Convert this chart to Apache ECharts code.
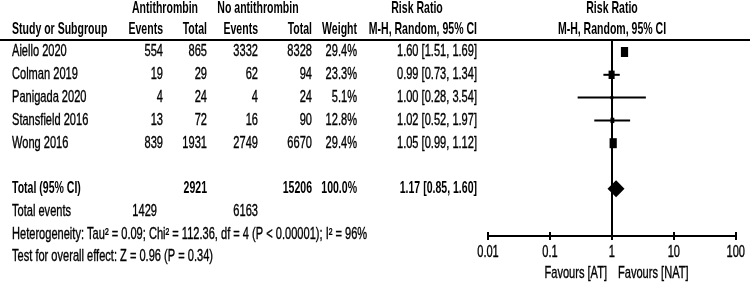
<!DOCTYPE html>
<html>
<head>
<meta charset="utf-8">
<script src="https://cdn.jsdelivr.net/npm/echarts@6/dist/echarts.min.js"></script>
<style>
  html, body { margin: 0; padding: 0; background: #fff; }
  #chart { width: 750px; height: 285px; }
</style>
</head>
<body>
<div id="chart"></div>
<script>
// study data
const studies = ['Aiello 2020', 'Colman 2019', 'Panigada 2020', 'Stansfield 2016', 'Wong 2016'];
const atEvents = [554, 19, 4, 13, 839];
const atTotal = [865, 29, 24, 72, 1931];
const natEvents = [3332, 62, 4, 16, 2749];
const natTotal = [8328, 94, 24, 90, 6670];
const weights = [29.4, 23.3, 5.1, 12.8, 29.4];
const rr = [1.60, 0.99, 1.00, 1.02, 1.05];
const ciLow = [1.51, 0.73, 0.28, 0.52, 0.99];
const ciHigh = [1.69, 1.34, 3.54, 1.97, 1.12];

// pooled result
const pooledRR = [1.17, 0.85, 1.60];
const pooledTotals = [2921, 15206];
const pooledEvents = [1429, 6163];
const heterogeneityText = 'Heterogeneity: Tau\u00b2 = 0.09; Chi\u00b2 = 112.36, df = 4 (P < 0.00001); I\u00b2 = 96%';
const overallText = 'Test for overall effect: Z = 0.96 (P = 0.34)';
const xTicks = [0.01, 0.1, 1, 10, 100];
const favourLabels = ['Favours [AT]', 'Favours [NAT]'];

// no Arial Narrow here: squeeze Liberation Sans instead (and stretch a bit, like the source image)
const FONT = "'Liberation Sans', Arial, sans-serif";
const FS = 13.5;
const NARROW = 0.82;
const NARROW_BOLD = 0.78;
const TALL = 1.18;

// row layout (pixels)
const row0 = 52;
const rowH = 22.8;
const gridTop = 40;
const axisY = 236;
const totalRow = 6;
const rowY = r => row0 + r * rowH;
const yMin = (gridTop - row0) / rowH;
const yMax = (axisY - row0) / rowH;

const fmt2 = v => v.toFixed(2);
const rrText = (m, l, h) => fmt2(m) + ' [' + fmt2(l) + ', ' + fmt2(h) + ']';

const chart = echarts.init(document.getElementById('chart'));

function txt(x, y, s, align, bold) {
    return {
        type: 'text',
        x: x,
        y: y,
        scaleX: bold ? NARROW_BOLD : NARROW,
        scaleY: TALL,
        style: {
            text: s,
            fill: '#000',
            stroke: '#000',
            lineWidth: bold ? 0 : 0.3,
            font: (bold ? 'bold ' : '') + FS + 'px ' + FONT,
            textAlign: align || 'left',
            textVerticalAlign: 'middle'
        }
    };
}

const graphics = [];
// headers
graphics.push(txt(165, 9, 'Antithrombin', 'center', true));
graphics.push(txt(258, 9, 'No antithrombin', 'center', true));
graphics.push(txt(417, 9, 'Risk Ratio', 'center', true));
graphics.push(txt(612, 9, 'Risk Ratio', 'center', true));
graphics.push(txt(12, 30, 'Study or Subgroup', 'left', true));
graphics.push(txt(163, 30, 'Events', 'right', true));
graphics.push(txt(207, 30, 'Total', 'right', true));
graphics.push(txt(258, 30, 'Events', 'right', true));
graphics.push(txt(312, 30, 'Total', 'right', true));
graphics.push(txt(357, 30, 'Weight', 'right', true));
graphics.push(txt(477, 30, 'M-H, Random, 95% CI', 'right', true));
graphics.push(txt(612, 30, 'M-H, Random, 95% CI', 'center', true));
graphics.push({
    type: 'line',
    shape: { x1: 0, y1: gridTop, x2: 750, y2: gridTop },
    style: { stroke: '#000', lineWidth: 2 }
});

// study rows
studies.forEach((name, i) => {
    const y = rowY(i);
    graphics.push(txt(12, y, name));
    graphics.push(txt(163, y, String(atEvents[i]), 'right'));
    graphics.push(txt(207, y, String(atTotal[i]), 'right'));
    graphics.push(txt(258, y, String(natEvents[i]), 'right'));
    graphics.push(txt(312, y, String(natTotal[i]), 'right'));
    graphics.push(txt(357, y, weights[i].toFixed(1) + '%', 'right'));
    graphics.push(txt(477, y, rrText(rr[i], ciLow[i], ciHigh[i]), 'right'));
});

// totals
const ty = rowY(totalRow);
graphics.push(txt(12, ty, 'Total (95% CI)', 'left', true));
graphics.push(txt(207, ty, String(pooledTotals[0]), 'right', true));
graphics.push(txt(312, ty, String(pooledTotals[1]), 'right', true));
graphics.push(txt(357, ty, weights.reduce((a, b) => a + b, 0).toFixed(1) + '%', 'right', true));
graphics.push(txt(477, ty, rrText(pooledRR[0], pooledRR[1], pooledRR[2]), 'right', true));
graphics.push(txt(12, rowY(7), 'Total events'));
graphics.push(txt(157, rowY(7), String(pooledEvents[0]), 'right'));
graphics.push(txt(258, rowY(7), String(pooledEvents[1]), 'right'));
graphics.push(txt(12, rowY(8), heterogeneityText));
graphics.push(txt(12, rowY(9) - 1, overallText));
graphics.push(txt(607, 274, favourLabels[0], 'right'));
graphics.push(txt(618, 274, favourLabels[1], 'left'));

const studyData = studies.map((s, i) => [rr[i], i, ciLow[i], ciHigh[i], weights[i]]);
const pooledData = [[pooledRR[0], totalRow, pooledRR[1], pooledRR[2]]];
const tickData = xTicks.map(v => [v, yMax]);
const maxW = Math.max(...weights);

const logAxis = extra => Object.assign({
    type: 'log',
    logBase: 10,
    min: xTicks[0],
    max: xTicks[xTicks.length - 1],
    position: 'bottom',
    splitLine: { show: false }
}, extra);

const option = {
    backgroundColor: '#fff',
    animation: false,
    grid: { left: 488, right: 12, top: gridTop, bottom: 285 - axisY },
    xAxis: [
        logAxis({
            axisLine: { onZero: false, lineStyle: { color: '#000', width: 2 } },
            axisTick: { show: true, length: 4, lineStyle: { color: '#000', width: 2 } },
            // kept for layout only, the visible labels come from the tick series
            axisLabel: { color: 'rgba(0,0,0,0)', fontSize: FS, fontFamily: FONT, margin: 11 }
        }),
        logAxis({
            axisLine: { show: false, onZero: false },
            axisTick: { show: true, inside: true, length: 4, lineStyle: { color: '#000', width: 2 } },
            axisLabel: { show: false }
        })
    ],
    yAxis: {
        type: 'value',
        inverse: true,
        min: yMin,
        max: yMax,
        show: false
    },
    series: [
        {
            type: 'custom',
            data: studyData,
            renderItem: (params, api) => {
                const c = api.coord([api.value(0), api.value(1)]);
                const lo = api.coord([api.value(2), api.value(1)]);
                const hi = api.coord([api.value(3), api.value(1)]);
                const h = Math.max(3, 10 * Math.pow(api.value(4) / maxW, 0.75));
                const w = Math.max(3, h * 0.72);
                return {
                    type: 'group',
                    children: [
                        {
                            type: 'line',
                            shape: { x1: lo[0], y1: lo[1], x2: hi[0], y2: hi[1] },
                            style: { stroke: '#000', lineWidth: 2 }
                        },
                        {
                            type: 'rect',
                            shape: { x: c[0] - w / 2, y: c[1] - h / 2, width: w, height: h },
                            style: { fill: '#000' }
                        }
                    ]
                };
            },
            markLine: {
                silent: true,
                symbol: 'none',
                label: { show: false },
                lineStyle: { color: '#000', width: 2, type: 'solid' },
                data: [{ xAxis: 1 }]
            }
        },
        {
            type: 'custom',
            data: pooledData,
            renderItem: (params, api) => {
                const c = api.coord([api.value(0), api.value(1)]);
                const lo = api.coord([api.value(2), api.value(1)]);
                const hi = api.coord([api.value(3), api.value(1)]);
                const h = 8.5;
                return {
                    type: 'polygon',
                    shape: { points: [[lo[0], c[1]], [c[0], c[1] - h], [hi[0], c[1]], [c[0], c[1] + h]] },
                    style: { fill: '#000' }
                };
            }
        },
        {
            // narrow tick labels under the log axis
            type: 'custom',
            data: tickData,
            silent: true,
            renderItem: (params, api) => {
                const p = api.coord([api.value(0), api.value(1)]);
                return txt(p[0], p[1] + 17, String(xTicks[params.dataIndex]), 'center');
            }
        }
    ],
    graphic: graphics
};

chart.setOption(option);
</script>
</body>
</html>
